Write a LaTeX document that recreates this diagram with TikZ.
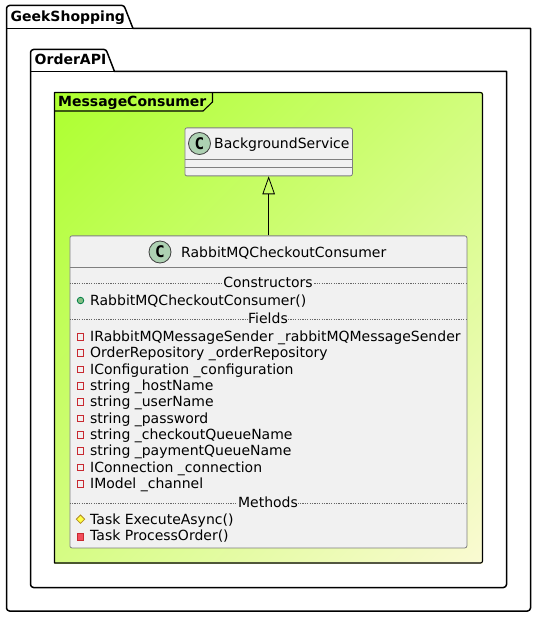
\documentclass[tikz,border=0pt]{standalone}
\usepackage{fontspec}
\setmainfont{DejaVu Sans}
\newfontfamily\ciconfont{DejaVu Sans Mono}
\usetikzlibrary{arrows.meta}
\definecolor{gradA}{HTML}{ADFF2F}
\definecolor{gradB}{HTML}{FAFAD2}
\definecolor{boxfill}{HTML}{F1F1F1}
\definecolor{boxline}{HTML}{7F7F7F}
\definecolor{cfill}{HTML}{ADD1B2}
\definecolor{pubfill}{HTML}{84BE84}
\definecolor{publine}{HTML}{038048}
\definecolor{privline}{HTML}{C82930}
\definecolor{privfill}{HTML}{F24D5C}
\definecolor{protfill}{HTML}{FFFF44}
\definecolor{protline}{HTML}{B38D22}
\pgfdeclareverticalshading{framegrad}{100bp}{color(0bp)=(gradB); color(14.64bp)=(gradB); color(85.36bp)=(gradA); color(100bp)=(gradA)}
\tikzset{
  x=1pt,y=-1pt,
  pkgline/.style={draw=black,line width=1.5pt,line join=round},
  pkgtitle/.style={anchor=base west,inner sep=0pt,font=\fontsize{14}{16}\selectfont\bfseries},
  classbox/.style={draw=boxline,fill=boxfill,line width=.8pt,rounded corners=2pt,inner sep=0pt,anchor=north west},
  classtext/.style={anchor=base west,inner sep=0pt,font=\fontsize{14}{16}\selectfont,text=black},
  member/.style={anchor=base west,inner sep=0pt,font=\fontsize{14}{16}\selectfont,text=black},
  sephead/.style={anchor=base,inner sep=0pt,fill=boxfill,font=\fontsize{14}{16}\selectfont,text=black},
  cicon/.style={circle,draw=black!75,fill=cfill,line width=.8pt,minimum size=22pt,inner sep=0pt,font=\fontsize{16}{16}\ciconfont\bfseries},
  rowline/.style={draw=boxline,line width=.8pt},
  dotline/.style={draw=black!60,line width=.6pt,dash pattern=on 1.2pt off 1.2pt},
  pubicon/.style={circle,draw=publine,fill=pubfill,line width=.8pt,minimum size=6.5pt,inner sep=0pt},
  privicon/.style={rectangle,draw=privline,fill=boxfill,line width=.9pt,minimum size=6.5pt,inner sep=0pt},
  privmeth/.style={rectangle,draw=privline,fill=privfill,line width=.9pt,minimum size=6.5pt,inner sep=0pt},
  proticon/.style={draw=protline,fill=protfill,line width=.8pt},
  extends/.style={draw=black,line width=.8pt,-{Triangle[open,length=18pt,width=12.5pt,fill=none]}}
}
\begin{document}
\begin{tikzpicture}
\useasboundingbox (0,0) rectangle (536,617);
% packages
\draw[pkgline,fill=white] (6.5,28.5) -- (6.5,8.5) to[out=90,in=180] (9.5,5.5) -- (122,5.5) to[out=0,in=110] (125,8) -- (133,28.5) -- (530.5,28.5) -- (530.5,608) to[out=-90,in=0] (527.5,611) -- (9.5,611) to[out=180,in=-90] (6.5,608) -- cycle;
\draw[pkgline] (6.5,28.5) -- (133,28.5);
\node[pkgtitle] (geek) at (10.5,21.5) {GeekShopping};
\draw[pkgline,fill=white] (30.5,71.5) -- (30.5,52.5) to[out=90,in=180] (33.5,49.5) -- (104,49.5) to[out=0,in=110] (107,52) -- (114.5,71.5) -- (506.5,71.5) -- (506.5,584.5) to[out=-90,in=0] (503.5,587.5) -- (33.5,587.5) to[out=180,in=-90] (30.5,584.5) -- cycle;
\draw[pkgline] (30.5,71.5) -- (114.5,71.5);
\node[pkgtitle] (order) at (34.5,64.5) {OrderAPI};
% frame
\shade[shading=framegrad,shading angle=45] (54.5,92.5) rectangle (482.5,563);
\draw[draw=black,line width=1.1pt,line join=round] (54.5,92.5) -- (480.5,92.5) to[out=0,in=90] (482.5,94.5) -- (482.5,561) to[out=-90,in=0] (480.5,563) -- (54.5,563) -- cycle;
\draw[draw=black,line width=1.1pt] (54.5,111) -- (203,111) -- (212.5,102) -- (212.5,92.5);
\node[pkgtitle] (frame) at (58,106.5) {MessageConsumer};
% BackgroundService
\node[classbox,minimum width=167.5pt,minimum height=48pt] (bg) at (184.5,127.5) {};
\node[cicon] (bgc) at (199.5,143.5) {C};
\node[classtext] (bgt) at (214,148.5) {BackgroundService};
\draw[rowline] (bg.west |- 0,159.5) -- (bg.east |- 0,159.5);
\draw[rowline] (bg.west |- 0,167.5) -- (bg.east |- 0,167.5);
% RabbitMQCheckoutConsumer
\node[classbox,minimum width=397pt,minimum height=312pt] (rb) at (69.5,235.5) {};
\node[cicon] (rbc) at (160,252) {C};
\node[classtext] (rbt) at (181,257) {RabbitMQCheckoutConsumer};
\draw[rowline] (rb.west |- 0,267.5) -- (rb.east |- 0,267.5);
\draw[dotline] (rb.west |- 0,283.5) -- (rb.east |- 0,283.5);
\draw[dotline] (rb.west |- 0,319.5) -- (rb.east |- 0,319.5);
\draw[dotline] (rb.west |- 0,503.5) -- (rb.east |- 0,503.5);
\node[sephead] (s1) at (268,287.5) {Constructors};
\node[sephead] (s2) at (268,323.5) {Fields};
\node[sephead] (s3) at (268,507.5) {Methods};
% members
\node[pubicon] (i0) at (80.5,300.5) {};
\node[member] (m0) at (90,305) {RabbitMQCheckoutConsumer()};
\foreach \nm/\yy/\txt in {
  1/337/{IRabbitMQMessageSender \_rabbitMQMessageSender},
  2/353/{OrderRepository \_orderRepository},
  3/369.5/{IConfiguration \_configuration},
  4/386/{string \_hostName},
  5/402/{string \_userName},
  6/418.5/{string \_password},
  7/435/{string \_checkoutQueueName},
  8/451/{string \_paymentQueueName},
  9/467.5/{IConnection \_connection},
  10/484/{IModel \_channel}}{
  \node[privicon] (i\nm) at (80.5,\yy) {};
  \node[member] (m\nm) at (90,\yy+4.5) {\txt};
}
\draw[proticon] (80.5,515) -- (84.7,519.2) -- (80.5,523.4) -- (76.3,519.2) -- cycle;
\node[member] (m11) at (90,524) {Task ExecuteAsync()};
\node[privmeth] (i12) at (80.5,537) {};
\node[member] (m12) at (90,540) {Task ProcessOrder()};
% inheritance
\draw[extends] (rb.north -| bg.south) -- (bg.south);
\end{tikzpicture}
\end{document}
